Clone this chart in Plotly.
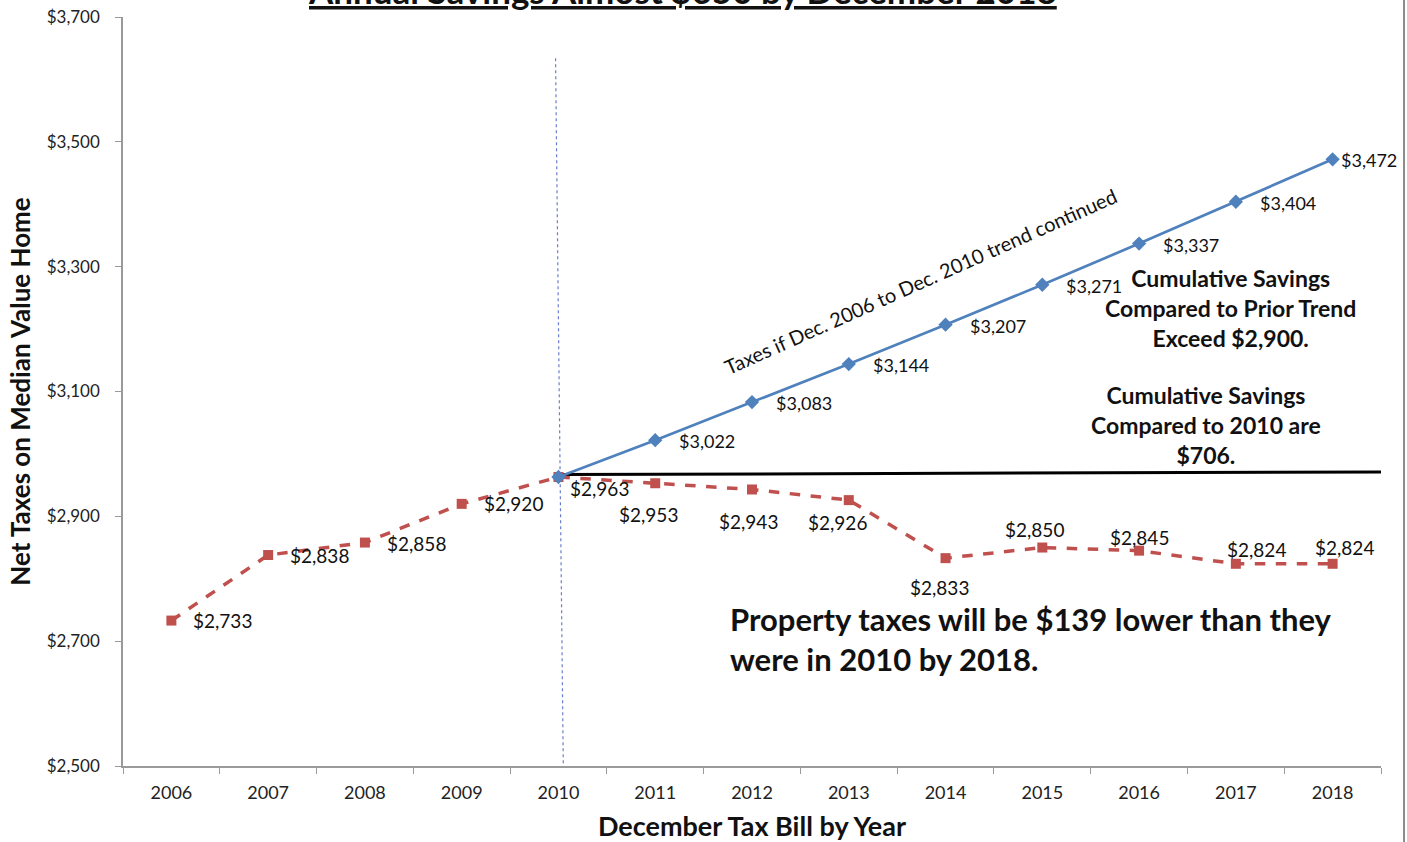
import plotly.graph_objects as go

# Tax bill years and the two series
YEARS = ["2006", "2007", "2008", "2009", "2010", "2011", "2012",
         "2013", "2014", "2015", "2016", "2017", "2018"]
ACTUAL_TAXES = [2733, 2838, 2858, 2920, 2963, 2953, 2943, 2926, 2833, 2850, 2845, 2824, 2824]
TREND_YEARS = ["2010", "2011", "2012", "2013", "2014", "2015", "2016", "2017", "2018"]
TREND_TAXES = [2963, 3022, 3083, 3144, 3207, 3271, 3337, 3404, 3472]
Y_TICKS = [2500, 2700, 2900, 3100, 3300, 3500, 3700]

FONT = "Lato, 'Open Sans', sans-serif"
RED = "#C0504D"
BLUE = "#4F81BD"

fig = go.Figure()

fig.add_trace(go.Scatter(
    x=YEARS, y=ACTUAL_TAXES, mode="lines+markers",
    line=dict(color=RED, width=3.5, dash="dash"),
    marker=dict(symbol="square", size=10, color=RED),
    hoverinfo="x+y", showlegend=False,
))
fig.add_trace(go.Scatter(
    x=TREND_YEARS, y=TREND_TAXES, mode="lines+markers",
    line=dict(color=BLUE, width=2.7),
    marker=dict(symbol="diamond", size=11, color=BLUE),
    hoverinfo="x+y", showlegend=False,
))

def money(v):
    return "${:,}".format(v)

annotations = []

# label offsets (px) for the actual-tax series: (xshift, yshift, xanchor)
red_offsets = {
    "2006": (20, 0, "left"), "2007": (20, 0, "left"), "2008": (20, -1, "left"),
    "2009": (20, 0, "left"), "2010": (10, -11, "left"), "2011": (-7, -31, "center"),
    "2012": (-4, -32, "center"), "2013": (-11, -22, "center"), "2014": (-6, -29, "center"),
    "2015": (-8, 18, "center"), "2016": (0, 13, "center"), "2017": (21, 14, "center"),
    "2018": (12, 16, "center"),
}
for yr, v in zip(YEARS, ACTUAL_TAXES):
    dx, dy, xa = red_offsets[yr]
    annotations.append(dict(
        x=YEARS.index(yr), y=v, xref="x", yref="y", text=money(v), showarrow=False,
        xanchor=xa, yanchor="middle", xshift=dx, yshift=dy,
        font=dict(family=FONT, size=19, color="#111111"),
    ))

for yr, v in zip(TREND_YEARS[1:], TREND_TAXES[1:]):
    dx = 22 if yr != "2018" else 6
    annotations.append(dict(
        x=YEARS.index(yr), y=v, xref="x", yref="y", text=money(v), showarrow=False,
        xanchor="left", yanchor="middle", xshift=dx, yshift=-1,
        font=dict(family=FONT, size=18, color="#111111"),
    ))

# Rotated note along the trend line
annotations.append(dict(
    x=0.634, y=0.648, xref="paper", yref="paper",
    text="Taxes if Dec. 2006 to Dec. 2010 trend continued",
    textangle=-24, showarrow=False, font=dict(family=FONT, size=20, color="#111111"),
))

annotations.append(dict(
    x=0.880, y=0.612, xref="paper", yref="paper",
    text="<b>Cumulative Savings<br>Compared to Prior Trend<br>Exceed $2,900.</b>",
    showarrow=False, align="center", xanchor="center", yanchor="middle",
    font=dict(family=FONT, size=23, color="#111111"),
))
annotations.append(dict(
    x=0.861, y=0.455, xref="paper", yref="paper",
    text="<b>Cumulative Savings<br>Compared to 2010 are<br>$706.</b>",
    showarrow=False, align="center", xanchor="center", yanchor="middle",
    font=dict(family=FONT, size=23, color="#111111"),
))

annotations.append(dict(
    x=0.481, y=0.169, xref="paper", yref="paper",
    text="<b>Property taxes will be $139 lower than they<br>were in 2010 by 2018.</b>",
    showarrow=False, align="left", xanchor="left", yanchor="middle",
    font=dict(family=FONT, size=31, color="#111111"),
))

# Title, running off the top edge
annotations.append(dict(
    x=0.445, y=1.005, xref="paper", yref="paper",
    text="<b><u>Annual Savings Almost $650 by December 2018</u></b>",
    showarrow=False, xanchor="center", yanchor="bottom",
    font=dict(family=FONT, size=35, color="#111111"),
))

shapes = [
    # flat reference at the 2010 level
    dict(type="line", xref="x", yref="y", x0=4, x1=12.5, y0=2967, y1=2971,
         line=dict(color="black", width=3), layer="below"),
    # dashed marker at 2010
    dict(type="line", xref="x", yref="y", x0=3.97, x1=4.05, y0=3634, y1=2500,
         line=dict(color="#6A7FCB", width=1.2, dash="dot"), layer="below"),
    # right-hand frame edge
    dict(type="line", xref="paper", yref="paper", x0=1.0183, x1=1.0183, y0=-0.15, y1=1.05,
         line=dict(color="#8C8C8C", width=2)),
]

fig.update_layout(
    width=1407, height=842,
    margin=dict(l=123, r=26, t=17, b=76, autoexpand=False),
    paper_bgcolor="white", plot_bgcolor="white",
    annotations=annotations, shapes=shapes,
    showlegend=False,
    font=dict(family=FONT, color="#222222"),
)

fig.update_xaxes(
    type="category", range=[-0.5, 12.5], automargin=False,
    showline=True, linecolor="#9A9A9A", linewidth=1.5,
    ticks="outside", tickson="boundaries", ticklen=6, tickcolor="#9A9A9A",
    ticklabelstandoff=10,
    showgrid=False, zeroline=False,
    tickfont=dict(family=FONT, size=18, color="#222222"),
    title=dict(text="<b>December Tax Bill by Year</b>", standoff=16,
               font=dict(family=FONT, size=27, color="#111111")),
)
fig.update_yaxes(
    range=[2500, 3700], tickvals=Y_TICKS, automargin=False,
    ticktext=[money(v) for v in Y_TICKS],
    showline=True, linecolor="#9A9A9A", linewidth=1.5,
    ticks="outside", ticklen=6, tickcolor="#9A9A9A",
    ticklabelstandoff=12,
    showgrid=False, zeroline=False,
    tickfont=dict(family=FONT, size=17, color="#222222"),
    title=dict(text="<b>Net Taxes on Median Value Home</b>", standoff=9,
               font=dict(family=FONT, size=26, color="#111111")),
)

fig.write_html("out.html")
